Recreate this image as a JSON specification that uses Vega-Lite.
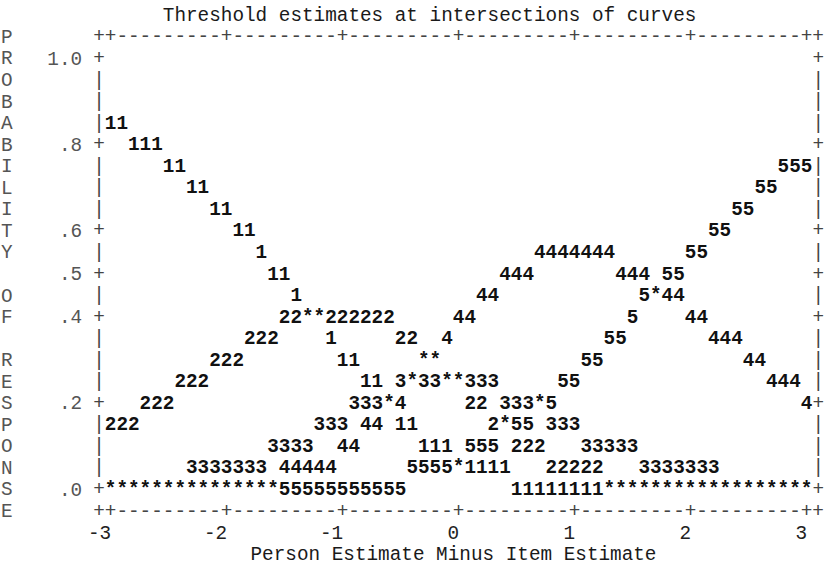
{
  "$schema": "https://vega.github.io/schema/vega-lite/v6.json",
  "width": 719.2,
  "height": 474.1,
  "autosize": {"type": "none"},
  "padding": {"left": 99, "top": 36.45, "right": 6.8, "bottom": 55.45},
  "background": "white",
  "config": {"view": {"stroke": null}, "font": "Liberation Mono"},
  "title": {
    "text": "Threshold estimates at intersections of curves",
    "anchor": "start",
    "frame": "group",
    "dx": 63.8,
    "offset": -7,
    "baseline": "middle",
    "font": "Liberation Mono",
    "fontSize": 19.33,
    "fontWeight": "normal",
    "color": "#1a1a1a"
  },
  "datasets": {
    "frame": [
      {"x": -3.1, "p": 1.05, "t": "++---------+---------+---------+---------+---------+---------++"},
      {"x": -3.1, "p": -0.05, "t": "++---------+---------+---------+---------+---------+---------++"},
      {"x": -3.1, "p": 1.0, "t": "+"}, {"x": -3.1, "p": 0.95, "t": "|"}, {"x": -3.1, "p": 0.9, "t": "|"},
      {"x": -3.1, "p": 0.85, "t": "|"}, {"x": -3.1, "p": 0.8, "t": "+"}, {"x": -3.1, "p": 0.75, "t": "|"},
      {"x": -3.1, "p": 0.7, "t": "|"}, {"x": -3.1, "p": 0.65, "t": "|"}, {"x": -3.1, "p": 0.6, "t": "+"},
      {"x": -3.1, "p": 0.55, "t": "|"}, {"x": -3.1, "p": 0.5, "t": "+"}, {"x": -3.1, "p": 0.45, "t": "|"},
      {"x": -3.1, "p": 0.4, "t": "+"}, {"x": -3.1, "p": 0.35, "t": "|"}, {"x": -3.1, "p": 0.3, "t": "|"},
      {"x": -3.1, "p": 0.25, "t": "|"}, {"x": -3.1, "p": 0.2, "t": "+"}, {"x": -3.1, "p": 0.15, "t": "|"},
      {"x": -3.1, "p": 0.1, "t": "|"}, {"x": -3.1, "p": 0.05, "t": "|"}, {"x": -3.1, "p": 0.0, "t": "+"},
      {"x": 3.1, "p": 1.0, "t": "+"}, {"x": 3.1, "p": 0.95, "t": "|"}, {"x": 3.1, "p": 0.9, "t": "|"},
      {"x": 3.1, "p": 0.85, "t": "|"}, {"x": 3.1, "p": 0.8, "t": "+"}, {"x": 3.1, "p": 0.75, "t": "|"},
      {"x": 3.1, "p": 0.7, "t": "|"}, {"x": 3.1, "p": 0.65, "t": "|"}, {"x": 3.1, "p": 0.6, "t": "+"},
      {"x": 3.1, "p": 0.55, "t": "|"}, {"x": 3.1, "p": 0.5, "t": "+"}, {"x": 3.1, "p": 0.45, "t": "|"},
      {"x": 3.1, "p": 0.4, "t": "+"}, {"x": 3.1, "p": 0.35, "t": "|"}, {"x": 3.1, "p": 0.3, "t": "|"},
      {"x": 3.1, "p": 0.25, "t": "|"}, {"x": 3.1, "p": 0.2, "t": "+"}, {"x": 3.1, "p": 0.15, "t": "|"},
      {"x": 3.1, "p": 0.1, "t": "|"}, {"x": 3.1, "p": 0.05, "t": "|"}, {"x": 3.1, "p": 0.0, "t": "+"}
    ],
    "curves": [
      {"x": -3.0, "p": 0.85, "t": "11"},
      {"x": -2.8, "p": 0.8, "t": "111"},
      {"x": -2.5, "p": 0.75, "t": "11"}, {"x": 2.8, "p": 0.75, "t": "555"},
      {"x": -2.3, "p": 0.7, "t": "11"}, {"x": 2.6, "p": 0.7, "t": "55"},
      {"x": -2.1, "p": 0.65, "t": "11"}, {"x": 2.4, "p": 0.65, "t": "55"},
      {"x": -1.9, "p": 0.6, "t": "11"}, {"x": 2.2, "p": 0.6, "t": "55"},
      {"x": -1.7, "p": 0.55, "t": "1"}, {"x": 0.7, "p": 0.55, "t": "4444444"}, {"x": 2.0, "p": 0.55, "t": "55"},
      {"x": -1.6, "p": 0.5, "t": "11"}, {"x": 0.4, "p": 0.5, "t": "444"}, {"x": 1.4, "p": 0.5, "t": "444"}, {"x": 1.8, "p": 0.5, "t": "55"},
      {"x": -1.4, "p": 0.45, "t": "1"}, {"x": 0.2, "p": 0.45, "t": "44"}, {"x": 1.6, "p": 0.45, "t": "5*44"},
      {"x": -1.5, "p": 0.4, "t": "22**222222"}, {"x": 0.0, "p": 0.4, "t": "44"}, {"x": 1.5, "p": 0.4, "t": "5"}, {"x": 2.0, "p": 0.4, "t": "44"},
      {"x": -1.8, "p": 0.35, "t": "222"}, {"x": -1.1, "p": 0.35, "t": "1"}, {"x": -0.5, "p": 0.35, "t": "22"}, {"x": -0.1, "p": 0.35, "t": "4"}, {"x": 1.3, "p": 0.35, "t": "55"}, {"x": 2.2, "p": 0.35, "t": "444"},
      {"x": -2.1, "p": 0.3, "t": "222"}, {"x": -1.0, "p": 0.3, "t": "11"}, {"x": -0.3, "p": 0.3, "t": "**"}, {"x": 1.1, "p": 0.3, "t": "55"}, {"x": 2.5, "p": 0.3, "t": "44"},
      {"x": -2.4, "p": 0.25, "t": "222"}, {"x": -0.8, "p": 0.25, "t": "11"}, {"x": -0.5, "p": 0.25, "t": "3*33**333"}, {"x": 0.9, "p": 0.25, "t": "55"}, {"x": 2.7, "p": 0.25, "t": "444"},
      {"x": -2.7, "p": 0.2, "t": "222"}, {"x": -0.9, "p": 0.2, "t": "333*4"}, {"x": 0.1, "p": 0.2, "t": "22"}, {"x": 0.4, "p": 0.2, "t": "333*5"}, {"x": 3.0, "p": 0.2, "t": "4"},
      {"x": -3.0, "p": 0.15, "t": "222"}, {"x": -1.2, "p": 0.15, "t": "333"}, {"x": -0.8, "p": 0.15, "t": "44"}, {"x": -0.5, "p": 0.15, "t": "11"}, {"x": 0.3, "p": 0.15, "t": "2*55"}, {"x": 0.8, "p": 0.15, "t": "333"},
      {"x": -1.6, "p": 0.1, "t": "3333"}, {"x": -1.0, "p": 0.1, "t": "44"}, {"x": -0.3, "p": 0.1, "t": "111"}, {"x": 0.1, "p": 0.1, "t": "555"}, {"x": 0.5, "p": 0.1, "t": "222"}, {"x": 1.1, "p": 0.1, "t": "33333"},
      {"x": -2.3, "p": 0.05, "t": "3333333"}, {"x": -1.5, "p": 0.05, "t": "44444"}, {"x": -0.4, "p": 0.05, "t": "5555*1111"}, {"x": 0.8, "p": 0.05, "t": "22222"}, {"x": 1.6, "p": 0.05, "t": "3333333"},
      {"x": -3.0, "p": 0.0, "t": "***************"}, {"x": -1.5, "p": 0.0, "t": "55555555555"}, {"x": 0.5, "p": 0.0, "t": "11111111"}, {"x": 1.3, "p": 0.0, "t": "******************"}
    ]
  },
  "encoding": {
    "x": {
      "field": "x",
      "type": "quantitative",
      "scale": {"domain": [-3.1, 3.1], "nice": false, "zero": false},
      "axis": {
        "values": [-3, -2, -1, 0, 1, 2, 3],
        "labelExpr": "'' + datum.value",
        "domain": false,
        "ticks": false,
        "tickSize": 0,
        "grid": false,
        "labelAlign": "right",
        "labelDx": 5.8,
        "labelBaseline": "middle",
        "labelPadding": 21.55,
        "labelFlush": false,
        "labelOverlap": false,
        "labelFont": "Liberation Mono",
        "labelFontSize": 19.33,
        "labelColor": "#222",
        "title": "Person Estimate Minus Item Estimate",
        "titleFont": "Liberation Mono",
        "titleFontSize": 19.33,
        "titleFontWeight": "normal",
        "titleColor": "#1a1a1a",
        "titleAlign": "center",
        "titleBaseline": "middle",
        "titleX": 354,
        "titleY": 43.1
      }
    },
    "y": {
      "field": "p",
      "type": "quantitative",
      "scale": {"domain": [-0.05, 1.05], "nice": false, "zero": false},
      "axis": {
        "values": [0, 0.2, 0.4, 0.5, 0.6, 0.8, 1],
        "labelExpr": "replace(format(datum.value, '.1f'), '0.', '.')",
        "domain": false,
        "ticks": false,
        "tickSize": 0,
        "grid": false,
        "labelPadding": 17.4,
        "labelBaseline": "middle",
        "labelFlush": false,
        "labelOverlap": false,
        "labelFont": "Liberation Mono",
        "labelFontSize": 19.33,
        "labelColor": "#555",
        "title": ["P", "R", "O", "B", "A", "B", "I", "L", "I", "T", "Y", "\u200b", "O", "F", "\u200b", "R", "E", "S", "P", "O", "N", "S", "E"],
        "titleAngle": 0,
        "titleAlign": "center",
        "titleBaseline": "middle",
        "titleX": -92.8,
        "titleY": 0,
        "titleLineHeight": 21.55,
        "titleFont": "Liberation Mono",
        "titleFontSize": 19.33,
        "titleFontWeight": "normal",
        "titleColor": "#555"
      }
    },
    "text": {"field": "t", "type": "nominal"}
  },
  "layer": [
    {
      "data": {"name": "frame"},
      "mark": {"type": "text", "align": "left", "dx": -5.8, "baseline": "middle", "font": "Liberation Mono", "fontSize": 19.33, "color": "#444", "clip": false}
    },
    {
      "data": {"name": "curves"},
      "mark": {"type": "text", "align": "left", "dx": -5.8, "baseline": "middle", "font": "Liberation Mono", "fontSize": 19.33, "fontWeight": "bold", "color": "#111", "clip": false}
    }
  ]
}
